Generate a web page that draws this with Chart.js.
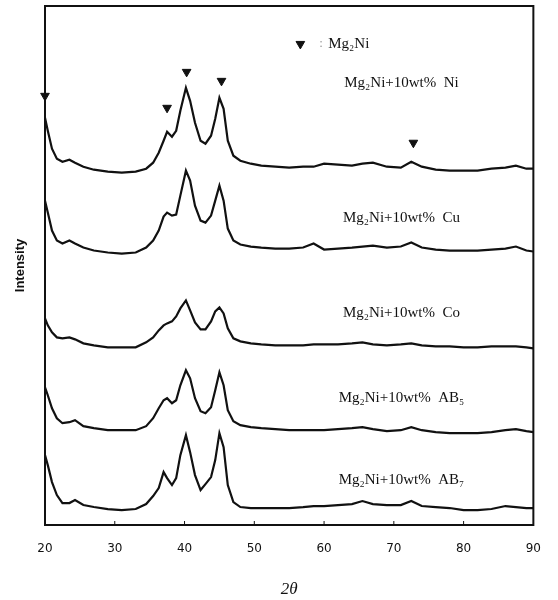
<!DOCTYPE html>
<html>
<head>
<meta charset="utf-8">
<script src="https://cdn.jsdelivr.net/npm/chart.js@4.4.1/dist/chart.umd.min.js"></script>
<style>
  html, body { margin: 0; padding: 0; background: #fff; }
</style>
</head>
<body>
<canvas id="xrd" width="558" height="600"></canvas>
<script>
// 2-theta sample points shared by all five patterns
const theta = [20, 20.4, 21, 21.7, 22.5, 23.5, 24.3, 25.5, 27, 29,
  31, 33, 34.5, 35.5, 36.3, 37, 37.5, 38.2, 38.8, 39.4,
  40.2, 40.8, 41.5, 42.3, 43, 43.8, 44.4, 45, 45.6, 46.2,
  47, 48, 49.5, 51, 53, 55, 57, 58.5, 60, 62,
  64, 65.5, 67, 69, 71, 72.5, 74, 76, 78, 80,
  82, 84, 86, 87.5, 89, 90];

// intensities (arbitrary units, patterns stacked one above the other)
const niIntensity = [408, 395, 377, 367, 364, 366, 363, 359, 356, 354,
  353, 354, 357, 363, 373, 385, 394, 389, 395, 415,
  438, 425, 403, 385, 382, 390, 407, 428, 417, 385,
  370, 365, 362, 360, 359, 358, 359, 359, 362, 361,
  360, 362, 363, 359, 358, 364, 359, 356, 355, 355,
  355, 357, 358, 360, 357, 357];
const cuIntensity = [325, 313, 295, 285, 282, 285, 282, 278, 275, 273,
  272, 273, 278, 285, 295, 309, 313, 310, 311, 330,
  355, 345, 320, 305, 303, 310, 325, 340, 325, 297,
  285, 281, 279, 278, 277, 277, 278, 282, 276, 277,
  278, 279, 280, 278, 279, 283, 278, 276, 275, 275,
  275, 276, 277, 279, 275, 274];
const coIntensity = [207, 200, 193, 188, 187, 188, 186, 182, 180, 178,
  178, 178, 183, 188, 195, 200, 202, 204, 209, 217,
  225, 215, 203, 196, 196, 204, 214, 218, 212, 197,
  187, 184, 182, 181, 180, 180, 180, 181, 181, 181,
  182, 183, 181, 180, 181, 182, 180, 179, 179, 178,
  178, 179, 179, 179, 178, 177];
const ab5Intensity = [138, 130, 117, 107, 102, 103, 105, 99, 97, 95,
  95, 95, 99, 107, 117, 125, 127, 122, 125, 140,
  155, 147, 127, 114, 112, 118, 135, 153, 140, 115,
  104, 100, 98, 97, 96, 95, 95, 95, 95, 96,
  97, 98, 96, 94, 95, 98, 95, 93, 92, 92,
  92, 93, 95, 96, 94, 93];
const ab7Intensity = [70, 60, 43, 30, 22, 22, 25, 20, 18, 16,
  15, 16, 21, 29, 37, 53, 47, 40, 47, 70,
  90, 73, 50, 35, 41, 48, 65, 92, 78, 40,
  23, 18, 17, 17, 17, 17, 18, 19, 19, 20,
  21, 24, 21, 20, 20, 24, 19, 18, 17, 15,
  15, 16, 19, 18, 17, 17];

// Mg2Ni reflections marked with a down triangle
const peakTheta = [20, 37.5, 40.3, 45.3, 72.8];
const peakMarkY = [430, 418, 454, 445, 383];

const seriesNames = ['Mg\u2082Ni+10wt%  Ni', 'Mg\u2082Ni+10wt%  Cu', 'Mg\u2082Ni+10wt%  Co',
  'Mg\u2082Ni+10wt%  AB\u2085', 'Mg\u2082Ni+10wt%  AB\u2087'];
const nameTheta = 71.1;
const nameY = [443, 308, 212, 127, 45];
const legendMark = { x: 56.6, y: 482 };
const legendText = { x: 60.6, y: 482, text: 'Mg\u2082Ni' };

const xTicks = [20, 30, 40, 50, 60, 70, 80, 90];

const toPoints = vals => theta.map((t, i) => ({ x: t, y: vals[i] }));

const lineSet = vals => ({
  data: toPoints(vals),
  borderColor: '#111',
  borderWidth: 2.2,
  pointRadius: 0,
  tension: 0,
  fill: false,
});

// frame, inward ticks and the text labels
const decor = {
  id: 'decor',
  afterDatasetsDraw(chart) {
    const { ctx, chartArea: a, scales: { x, y } } = chart;
    ctx.save();
    ctx.strokeStyle = '#111';
    ctx.lineWidth = 2;
    ctx.strokeRect(a.left, a.top, a.right - a.left, a.bottom - a.top);

    ctx.lineWidth = 1;
    xTicks.slice(1, -1).forEach(t => {
      const px = x.getPixelForValue(t);
      ctx.beginPath();
      ctx.moveTo(px, a.bottom);
      ctx.lineTo(px, a.bottom - 4);
      ctx.stroke();
    });

    ctx.fillStyle = '#111';
    ctx.font = '15px "Liberation Serif", "Times New Roman", serif';
    ctx.textBaseline = 'middle';
    ctx.textAlign = 'center';
    seriesNames.forEach((n, i) => {
      ctx.fillText(n, x.getPixelForValue(nameTheta), y.getPixelForValue(nameY[i]));
    });
    ctx.textAlign = 'left';
    ctx.fillText(legendText.text, x.getPixelForValue(legendText.x), y.getPixelForValue(legendText.y));
    ctx.font = '13px "Liberation Serif", serif';
    ctx.fillStyle = '#999';
    ctx.fillText(':', x.getPixelForValue(legendText.x) - 9, y.getPixelForValue(legendText.y));
    ctx.restore();
  }
};

new Chart(document.getElementById('xrd'), {
  type: 'line',
  data: {
    datasets: [
      lineSet(niIntensity),
      lineSet(cuIntensity),
      lineSet(coIntensity),
      lineSet(ab5Intensity),
      lineSet(ab7Intensity),
      {
        type: 'scatter',
        data: peakTheta.map((t, i) => ({ x: t, y: peakMarkY[i] }))
          .concat([{ x: legendMark.x, y: legendMark.y }]),
        pointStyle: 'triangle',
        rotation: 180,
        radius: 5,
        clip: false,
        backgroundColor: '#111',
        borderColor: '#111',
        borderWidth: 1,
      },
    ],
  },
  options: {
    responsive: false,
    animation: false,
    layout: { padding: { left: 0, right: 20, top: 5, bottom: 0 } },
    plugins: { legend: { display: false }, tooltip: { enabled: false } },
    scales: {
      x: {
        type: 'linear',
        min: 20,
        max: 90,
        afterBuildTicks: s => { s.ticks = xTicks.map(v => ({ value: v })); },
        afterFit: s => { s.height = 75; },
        grid: { display: false, drawTicks: false },
        border: { display: false },
        ticks: {
          padding: 17,
          color: '#111',
          maxRotation: 0,
          font: { family: '"DejaVu Sans", sans-serif', size: 12 },
        },
        title: {
          display: true,
          text: '2\u03b8',
          color: '#111',
          padding: { top: 0, bottom: 0 },
          font: { family: '"Liberation Serif", serif', size: 17, style: 'italic' },
        },
      },
      y: {
        type: 'linear',
        min: 0,
        max: 520,
        afterFit: s => { s.width = 45; },
        grid: { display: false },
        border: { display: false },
        ticks: { display: false },
        title: {
          display: true,
          text: 'Intensity',
          color: '#111',
          padding: { top: 13, bottom: 0 },
          font: { family: '"Liberation Sans", Arial, sans-serif', size: 13, weight: 'bold' },
        },
      },
    },
  },
  plugins: [decor],
});
</script>
</body>
</html>
